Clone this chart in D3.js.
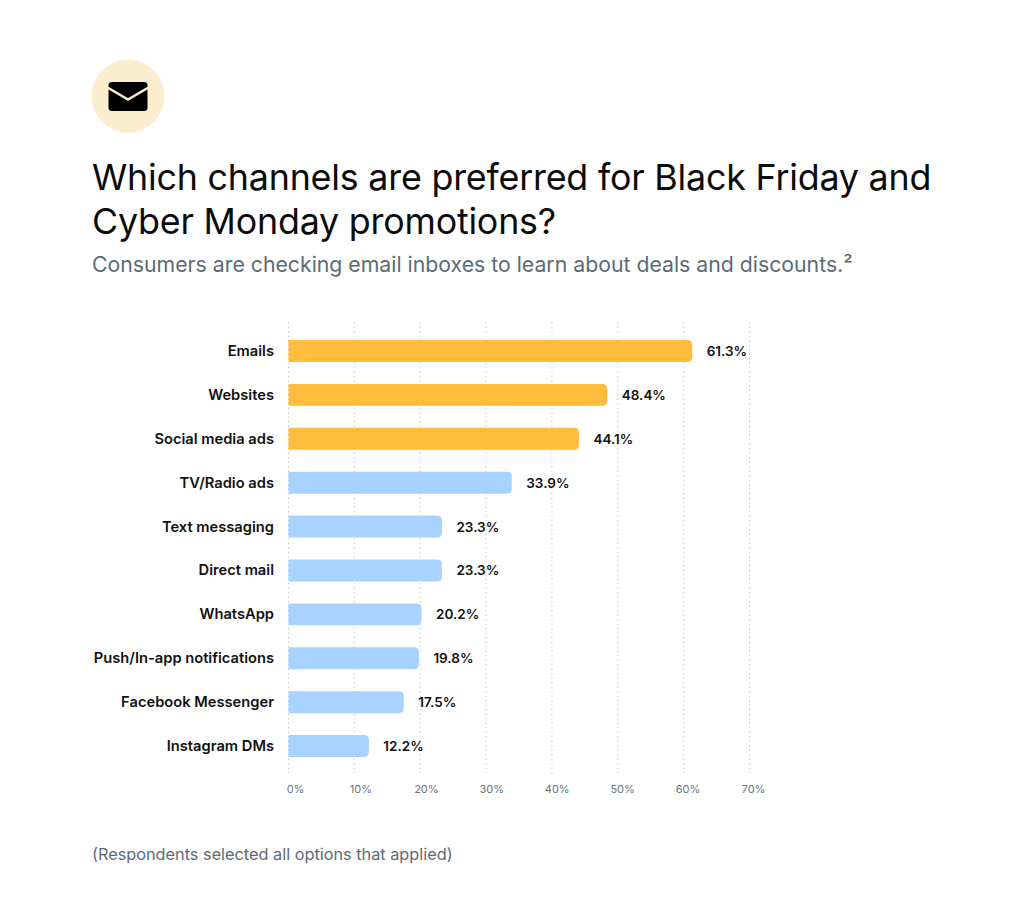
<!DOCTYPE html>
<html lang="en">
<head>
<meta charset="utf-8">
<title>Black Friday channels</title>
<style>
  html, body { margin: 0; padding: 0; background: #fff; }
  svg { display: block; font-family: Inter, 'Noto Sans', sans-serif; }
</style>
<script src="https://d3js.org/d3.v7.min.js"></script>
</head>
<body>
<svg id="chart" width="1024" height="912"></svg>
<script>
var channels = ["Emails", "Websites", "Social media ads", "TV/Radio ads", "Text messaging",
                "Direct mail", "WhatsApp", "Push/In-app notifications", "Facebook Messenger", "Instagram DMs"];
var shares = [61.3, 48.4, 44.1, 33.9, 23.3, 23.3, 20.2, 19.8, 17.5, 12.2];
var highlighted = ["Emails", "Websites", "Social media ads"];
var ticks = [0, 10, 20, 30, 40, 50, 60, 70];
var titleLines = ["Which channels are preferred for Black Friday and", "Cyber Monday promotions?"];
var subtitle = "Consumers are checking email inboxes to learn about deals and discounts.²";
var footnote = "(Respondents selected all options that applied)";

var svg = d3.select("#chart");
var x = d3.scaleLinear().domain([0, 70]).range([288.5, 749.5]);
// tick labels sit on a slightly tighter spacing than the gridlines
var xLabel = d3.scaleLinear().domain([0, 70]).range([295.5, 753.5]);
var y = d3.scaleBand().domain(channels).range([329, 768]).paddingInner(0.5).paddingOuter(0.25);

// header badge
svg.append("circle").attr("cx", 128).attr("cy", 96.3).attr("r", 36.5).attr("fill", "#fdedcf");
svg.append("rect").attr("x", 108.5).attr("y", 82).attr("width", 39).attr("height", 29).attr("rx", 3.5).attr("fill", "#000");
svg.append("path").attr("d", "M107.5 87.5 L128 99.5 L148.5 87.5")
  .attr("fill", "none").attr("stroke", "#fdedcf").attr("stroke-width", 2.4);

svg.selectAll(".title").data(titleLines).join("text")
  .attr("class", "title")
  .attr("x", 92).attr("y", (d, i) => 190 + i * 44)
  .attr("font-size", 35.8).attr("fill", "#0b0b0b").attr("letter-spacing", -0.2)
  .text(d => d);

svg.append("text").attr("x", 92).attr("y", 272)
  .attr("font-size", 21.25).attr("fill", "#5d6b75")
  .text(subtitle);

// dotted gridlines
svg.selectAll(".grid").data(ticks).join("line")
  .attr("class", "grid")
  .attr("x1", d => x(d)).attr("x2", d => x(d))
  .attr("y1", 322).attr("y2", 773)
  .attr("stroke", "#c4c8cc").attr("stroke-width", 1).attr("stroke-dasharray", "1.5 3");

svg.selectAll(".tick").data(ticks).join("text")
  .attr("class", "tick")
  .attr("x", d => xLabel(d)).attr("y", 793)
  .attr("text-anchor", "middle")
  .attr("font-size", 11).attr("fill", "#6b757c")
  .text(d => d + "%");

// bars, square at the axis and rounded at the end
function barPath(d, i) {
  var x0 = x(0), x1 = x(shares[i]), t = y(d), h = y.bandwidth(), r = 5;
  return "M" + x0 + " " + t + "H" + (x1 - r) + "Q" + x1 + " " + t + " " + x1 + " " + (t + r)
    + "V" + (t + h - r) + "Q" + x1 + " " + (t + h) + " " + (x1 - r) + " " + (t + h) + "H" + x0 + "Z";
}
svg.selectAll(".bar").data(channels).join("path")
  .attr("class", "bar")
  .attr("d", barPath)
  .attr("fill", d => highlighted.includes(d) ? "#ffbc3d" : "#a9d3ff");

svg.selectAll(".label").data(channels).join("text")
  .attr("class", "label")
  .attr("x", 274).attr("y", d => y(d) + y.bandwidth() / 2 + 5)
  .attr("text-anchor", "end")
  .attr("font-size", 14.7).attr("font-weight", 600).attr("fill", "#111")
  .text(d => d);

svg.selectAll(".value").data(channels).join("text")
  .attr("class", "value")
  .attr("x", (d, i) => x(shares[i]) + 14.5).attr("y", d => y(d) + y.bandwidth() / 2 + 5)
  .attr("font-size", 13.5).attr("font-weight", 600).attr("fill", "#111")
  .text((d, i) => shares[i].toFixed(1) + "%");

svg.append("text").attr("x", 92).attr("y", 860)
  .attr("font-size", 16.3).attr("fill", "#5d6b75")
  .text(footnote);
</script>
</body>
</html>
